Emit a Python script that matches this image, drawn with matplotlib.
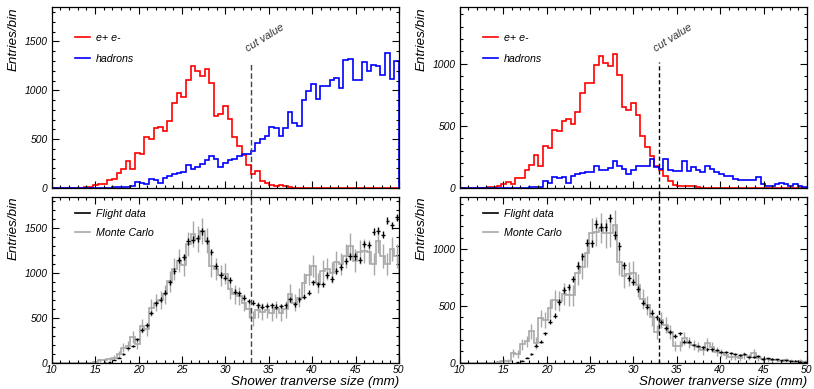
import numpy as np
import matplotlib
matplotlib.use("Agg")
import matplotlib.pyplot as plt
from matplotlib.lines import Line2D
from matplotlib.ticker import MultipleLocator

plt.rcParams['font.family'] = ['Liberation Sans', 'DejaVu Sans']
plt.rcParams['font.style'] = 'italic'

# --- binning: 75 bins between 10 and 50 mm ---
X_MIN, X_MAX, N_BINS = 10.0, 50.0, 75
CUT = 33.0

# --- left column: top = simulated e+e- / hadrons, bottom = flight data vs MC ---
ee_left = [0, 0, 0, 0, 0, 3, 5, 8, 15, 30, 45, 40, 86, 90, 155, 195, 280, 195, 360, 350,
           520, 500, 610, 625, 585, 690, 870, 970, 930, 1110, 1250, 1195, 1145, 1215, 1070, 735, 760, 840, 705, 525,
           430, 335, 235, 140, 170, 70, 48, 28, 17, 35, 17, 8, 3, 2, 4, 2, 1, 3, 2, 1,
           2, 1, 0, 1, 0, 2, 0, 1, 0, 0, 1, 0, 0, 0, 0]
had_left = [0, 0, 0, 0, 0, 0, 0, 0, 0, 0, 2, 3, 5, 8, 10, 12, 15, 25, 59, 55,
            41, 93, 85, 50, 100, 118, 140, 155, 160, 236, 192, 215, 247, 290, 325, 295, 220, 255, 282, 300,
            325, 347, 345, 376, 458, 500, 531, 623, 613, 536, 613, 780, 665, 638, 900, 990, 1069, 914, 1045, 1045,
            1103, 1131, 1024, 1310, 1320, 1103, 1103, 1293, 1196, 1258, 1248, 1155, 1386, 1120, 1303]
data_left = [0, 0, 0, 0, 0, 0, 0, 0, 0, 0, 0, 2, 8, 30, 55, 93, 160, 185, 262, 365,
             417, 551, 663, 704, 782, 894, 1024, 1143, 1180, 1352, 1370, 1385, 1463, 1359, 1236, 1080, 975, 949, 920, 789,
             774, 726, 689, 670, 640, 625, 633, 640, 625, 633, 640, 707, 651, 707, 737, 782, 894, 875, 875, 975,
             931, 1024, 1068, 1128, 1184, 1184, 1147, 1322, 1314, 1459, 1471, 1426, 1582, 1534, 1620]
mc_left = [0, 0, 0, 0, 0, 0, 0, 0, 0, 10, 25, 30, 40, 56, 95, 168, 186, 287, 205, 410,
           372, 614, 670, 696, 763, 905, 1042, 1136, 1087, 1322, 1434, 1378, 1463, 1359, 1080, 1042, 975, 994, 819, 763,
           745, 670, 596, 495, 585, 570, 588, 558, 596, 558, 596, 771, 670, 726, 886, 980, 1080, 886, 1024, 1042,
           1005, 1117, 1098, 1191, 1303, 1136, 1229, 1240, 1229, 1098, 1359, 1191, 1098, 1266, 1191]

# --- right column ---
ee_right = [0, 0, 0, 0, 0, 3, 5, 8, 20, 35, 45, 35, 80, 82, 147, 182, 262, 179, 340, 326,
            468, 455, 543, 554, 516, 615, 767, 847, 847, 989, 1062, 1003, 981, 1078, 909, 650, 628, 687, 588, 420,
            329, 254, 174, 147, 99, 53, 27, 19, 13, 13, 19, 5, 2, 3, 1, 2, 0, 1, 2, 0,
            1, 0, 1, 0, 0, 1, 0, 0, 1, 0, 0, 0, 0, 0, 0]
had_right = [0, 0, 0, 0, 0, 0, 0, 0, 0, 0, 0, 0, 0, 0, 3, 5, 5, 8, 53, 40,
             90, 80, 86, 40, 94, 115, 120, 128, 128, 174, 147, 147, 160, 214, 174, 152, 115, 147, 174, 174,
             179, 233, 168, 152, 233, 147, 134, 134, 219, 134, 168, 147, 126, 174, 152, 126, 115, 94, 94, 72,
             67, 67, 67, 67, 88, 35, 19, 19, 35, 40, 35, 19, 35, 13, 8]
data_right = [0, 0, 0, 0, 0, 0, 0, 0, 0, 0, 0, 0, 5, 18, 45, 80, 150, 185, 258, 361,
              414, 534, 639, 663, 739, 853, 936, 1056, 1050, 1220, 1197, 1197, 1270, 1123, 1027, 856, 745, 713, 645, 528,
              493, 440, 399, 355, 302, 267, 235, 258, 185, 185, 155, 147, 135, 117, 117, 111, 97, 97, 82, 73,
              67, 73, 53, 53, 59, 32, 38, 32, 29, 23, 23, 15, 18, 9, 5]
mc_right = [0, 0, 0, 0, 0, 0, 0, 0, 10, 15, 15, 82, 76, 164, 187, 275, 173, 390, 375, 478,
            551, 545, 604, 595, 595, 786, 845, 962, 1144, 1153, 1182, 1138, 1144, 1211, 889, 763, 780, 790, 680, 560,
            505, 400, 273, 375, 330, 270, 147, 147, 214, 176, 155, 135, 111, 170, 135, 97, 88, 67, 53, 53,
            44, 67, 47, 82, 38, 29, 29, 23, 23, 18, 23, 18, 9, 15, 9]

edges = np.linspace(X_MIN, X_MAX, N_BINS + 1)
centers = 0.5 * (edges[:-1] + edges[1:])
MC_ERR_SCALE = 3.8   # MC normalised to data, errors scaled accordingly


def style_axes(ax, ymax, show_xlabels):
    ax.set_xlim(X_MIN, X_MAX)
    ax.set_ylim(0, ymax)
    ax.xaxis.set_major_locator(MultipleLocator(5))
    ax.xaxis.set_minor_locator(MultipleLocator(1))
    ax.yaxis.set_major_locator(MultipleLocator(500))
    ax.yaxis.set_minor_locator(MultipleLocator(100))
    ax.tick_params(which='both', direction='in', top=True, right=True, width=0.8, labelsize=7.4)
    ax.tick_params(which='major', length=5, pad=3)
    ax.tick_params(which='minor', length=2.5)
    ax.tick_params(axis='x', labelbottom=show_xlabels, pad=2)
    for sp in ax.spines.values():
        sp.set_linewidth(0.9)
    ax.set_ylabel('Entries/bin', loc='top', fontsize=9.6)
    ax.yaxis.set_label_coords(-0.092, 1.0)


def draw_top(ax, ee, had, ymax, cut_color, dashes):
    ax.stairs(ee, edges, color='#ff0000', lw=1.2)
    ax.stairs(had, edges, color='#0000ff', lw=1.2)
    style_axes(ax, ymax, False)
    ax.axvline(CUT, ymin=-0.04, ymax=0.70, color=cut_color, lw=1.0, dashes=dashes, clip_on=False)
    ax.text(0.567, 0.745, 'cut value', transform=ax.transAxes, rotation=32, rotation_mode='anchor',
            ha='left', va='bottom', fontsize=7.8, color='#333333')
    handles = [Line2D([], [], color='#ff0000', lw=1.2), Line2D([], [], color='#0000ff', lw=1.2)]
    ax.legend(handles, ['e+ e-', 'hadrons'], loc='upper left', bbox_to_anchor=(0.068, 0.86),
              frameon=False, fontsize=7.7, handlelength=1.35, handletextpad=0.6,
              labelspacing=1.05, borderpad=0, borderaxespad=0)


def draw_bottom(ax, data, mc, ymax, cut_color, dashes):
    data = np.asarray(data, dtype=float)
    mc = np.asarray(mc, dtype=float)
    ax.stairs(mc, edges, color='#a8a8a8', lw=1.2)
    m = mc > 0
    ax.errorbar(centers[m], mc[m], yerr=MC_ERR_SCALE * np.sqrt(mc[m]), fmt='none',
                ecolor='#a8a8a8', elinewidth=1.0)
    d = data > 0
    ax.errorbar(centers[d], data[d], yerr=np.sqrt(data[d]), xerr=0.22, fmt='none',
                ecolor='black', elinewidth=1.0)
    style_axes(ax, ymax, True)
    ax.axvline(CUT, ymin=0, ymax=1.01, color=cut_color, lw=1.0, dashes=dashes, clip_on=False)
    ax.set_xlabel('Shower tranverse size (mm)', loc='right', fontsize=9.6)
    ax.xaxis.set_label_coords(1.0, -0.078)
    handles = [Line2D([], [], color='black', lw=1.2), Line2D([], [], color='#a8a8a8', lw=1.2)]
    ax.legend(handles, ['Flight data', 'Monte Carlo'], loc='upper left', bbox_to_anchor=(0.068, 0.925),
              frameon=False, fontsize=7.7, handlelength=1.35, handletextpad=0.6,
              labelspacing=0.85, borderpad=0, borderaxespad=0)


fig = plt.figure(figsize=(8.14, 3.89), dpi=100)
W, H = 814.0, 389.0
# axes boxes in pixels: (left, top, right, bottom)
boxes = {
    'lt': (51.7, 7.3, 399.0, 188.0),
    'lb': (51.7, 196.7, 399.0, 362.7),
    'rt': (459.7, 7.3, 807.0, 188.0),
    'rb': (459.7, 196.7, 807.0, 362.7),
}
axs = {}
for key, (l, t, r, b) in boxes.items():
    axs[key] = fig.add_axes([l / W, 1 - b / H, (r - l) / W, (b - t) / H])

draw_top(axs['lt'], ee_left, had_left, 1850, '#444444', (4, 2))
draw_bottom(axs['lb'], data_left, mc_left, 1850, '#444444', (4, 2))
draw_top(axs['rt'], ee_right, had_right, 1455, 'black', (3, 2))
draw_bottom(axs['rb'], data_right, mc_right, 1460, 'black', (3, 2))

fig.savefig('out.png', dpi=100)
